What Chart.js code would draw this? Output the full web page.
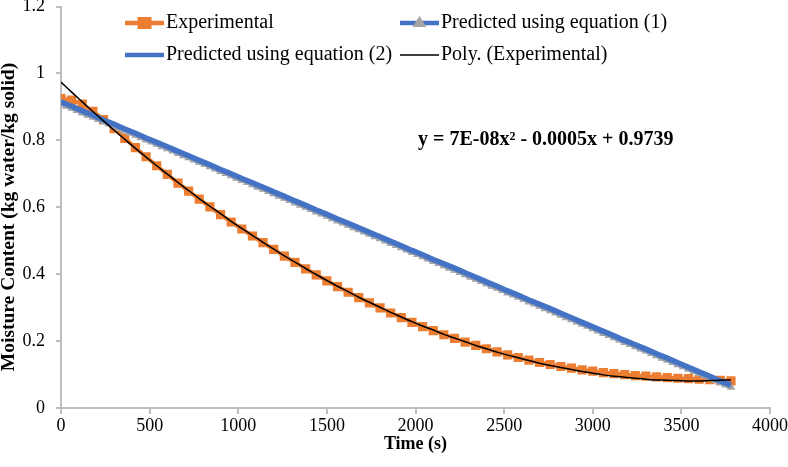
<!DOCTYPE html>
<html>
<head>
<meta charset="utf-8">
<script src="https://cdn.jsdelivr.net/npm/chart.js@4.4.1/dist/chart.umd.min.js"></script>
<style>
  html, body { margin: 0; padding: 0; background: #fff; }
  #wrap { width: 788px; height: 467px; }
</style>
</head>
<body>
<div id="wrap"><canvas id="chart" width="788" height="467"></canvas></div>
<script>
// 시간 (s) - 실험값 / 식(2) / 추세선
const expTime = [0,60,120,180,240,300,360,420,480,540,600,660,720,780,840,900,960,1020,1080,1140,1200,1260,1320,1380,1440,1500,1560,1620,1680,1740,1800,1860,1920,1980,2040,2100,2160,2220,2280,2340,2400,2460,2520,2580,2640,2700,2760,2820,2880,2940,3000,3060,3120,3180,3240,3300,3360,3420,3480,3540,3600,3660,3720,3780];

// 시간 (s) - 식(1) 예측값 (더 촘촘함)
const predTime = [0,30,60,90,120,150,180,210,240,270,300,330,360,390,420,450,480,510,540,570,600,630,660,690,720,750,780,810,840,870,900,930,960,990,1020,1050,1080,1110,1140,1170,1200,1230,1260,1290,1320,1350,1380,1410,1440,1470,1500,1530,1560,1590,1620,1650,1680,1710,1740,1770,1800,1830,1860,1890,1920,1950,1980,2010,2040,2070,2100,2130,2160,2190,2220,2250,2280,2310,2340,2370,2400,2430,2460,2490,2520,2550,2580,2610,2640,2670,2700,2730,2760,2790,2820,2850,2880,2910,2940,2970,3000,3030,3060,3090,3120,3150,3180,3210,3240,3270,3300,3330,3360,3390,3420,3450,3480,3510,3540,3570,3600,3630,3660,3690,3720,3750,3780];

const experimental = [0.925,0.920,0.908,0.887,0.862,0.835,0.806,0.778,0.751,0.724,0.698,0.672,0.648,0.624,0.601,0.578,0.556,0.535,0.514,0.494,0.474,0.454,0.435,0.416,0.398,0.380,0.363,0.346,0.330,0.314,0.299,0.284,0.270,0.256,0.243,0.231,0.219,0.208,0.197,0.187,0.177,0.168,0.159,0.151,0.143,0.136,0.130,0.124,0.119,0.114,0.110,0.106,0.103,0.100,0.097,0.095,0.093,0.091,0.089,0.088,0.086,0.085,0.083,0.081];

const predicted1 = [0.909,0.902,0.896,0.889,0.882,0.875,0.869,0.862,0.855,0.849,0.842,0.835,0.828,0.822,0.815,0.808,0.801,0.795,0.788,0.781,0.775,0.768,0.761,0.754,0.748,0.741,0.734,0.728,0.721,0.714,0.707,0.701,0.694,0.687,0.680,0.674,0.667,0.660,0.654,0.647,0.640,0.633,0.627,0.620,0.613,0.606,0.600,0.593,0.586,0.580,0.573,0.566,0.559,0.553,0.546,0.539,0.533,0.526,0.519,0.512,0.506,0.499,0.492,0.486,0.479,0.472,0.465,0.459,0.452,0.445,0.438,0.432,0.425,0.418,0.412,0.405,0.398,0.391,0.385,0.378,0.371,0.364,0.358,0.351,0.344,0.338,0.331,0.324,0.317,0.311,0.304,0.297,0.291,0.284,0.277,0.270,0.264,0.257,0.250,0.244,0.237,0.230,0.223,0.217,0.210,0.203,0.196,0.190,0.183,0.176,0.170,0.163,0.156,0.149,0.143,0.136,0.129,0.123,0.116,0.109,0.102,0.096,0.089,0.082,0.075,0.069,0.062];

const predicted2 = [0.915,0.902,0.888,0.875,0.861,0.848,0.834,0.821,0.807,0.794,0.781,0.767,0.754,0.740,0.727,0.713,0.700,0.686,0.673,0.660,0.646,0.633,0.619,0.606,0.592,0.579,0.565,0.552,0.539,0.525,0.512,0.498,0.485,0.471,0.458,0.444,0.431,0.418,0.404,0.391,0.377,0.364,0.350,0.337,0.323,0.310,0.297,0.283,0.270,0.256,0.243,0.229,0.216,0.202,0.189,0.176,0.162,0.149,0.135,0.122,0.108,0.095,0.081,0.068];

const polyTrend = [0.974,0.944,0.915,0.886,0.858,0.830,0.803,0.776,0.750,0.724,0.699,0.674,0.650,0.626,0.603,0.581,0.558,0.537,0.516,0.495,0.475,0.455,0.436,0.417,0.399,0.381,0.364,0.348,0.331,0.316,0.301,0.286,0.272,0.258,0.245,0.233,0.220,0.209,0.198,0.187,0.177,0.167,0.158,0.150,0.142,0.134,0.127,0.121,0.115,0.109,0.104,0.099,0.095,0.092,0.089,0.086,0.084,0.083,0.082,0.081,0.081,0.082,0.083,0.084];

const xTicks = [0, 500, 1000, 1500, 2000, 2500, 3000, 3500, 4000];
const yTicks = [0, 0.2, 0.4, 0.6, 0.8, 1, 1.2];

const equationText = 'y = 7E-08x² - 0.0005x + 0.9739';
const yTitle = 'Moisture Content (kg water/kg solid)';

const SERIF = '"Liberation Serif", "Times New Roman", serif';
const ORANGE = '#ED7D31';
const BLUE = '#4472C4';
const GRAY = '#A5A5A5';

function toPoints(xs, ys) {
    return xs.map((x, i) => ({ x: x, y: ys[i] }));
}

// 범례, y축 제목, 추세선 식을 그리는 플러그인
const legendPlugin = {
    id: 'customLegend',
    afterDraw(chart) {
        const ctx = chart.ctx;
        ctx.save();
        ctx.font = '20px ' + SERIF;
        ctx.fillStyle = '#000';
        ctx.textBaseline = 'middle';
        ctx.textAlign = 'left';

        const items = [
            { ds: 0, x: 125, y: 23, text: 'Experimental' },
            { ds: 1, x: 400, y: 23, text: 'Predicted using equation (1)' },
            { ds: 2, x: 125, y: 55, text: 'Predicted using equation (2)' },
            { ds: 3, x: 400, y: 55, text: 'Poly. (Experimental)' }
        ];
        items.forEach(it => {
            const d = chart.data.datasets[it.ds];
            const len = 39;
            ctx.strokeStyle = d.borderColor;
            ctx.lineWidth = it.ds === 3 ? 1.5 : 4.5;
            ctx.beginPath();
            ctx.moveTo(it.x, it.y);
            ctx.lineTo(it.x + len, it.y);
            ctx.stroke();
            const cx = it.x + len / 2;
            if (d.pointStyle === 'rect' && d.pointRadius > 0) {
                ctx.fillStyle = d.pointBackgroundColor;
                ctx.fillRect(cx - 7, it.y - 6, 14, 12);
            } else if (d.pointStyle === 'triangle' && d.pointRadius > 0) {
                ctx.fillStyle = d.pointBackgroundColor;
                ctx.beginPath();
                ctx.moveTo(cx, it.y - 7);
                ctx.lineTo(cx + 7, it.y + 4);
                ctx.lineTo(cx - 7, it.y + 4);
                ctx.closePath();
                ctx.fill();
            }
            ctx.fillStyle = '#000';
            ctx.fillText(it.text, it.x + len + 2, it.y);
        });

        ctx.font = 'bold 20px ' + SERIF;
        ctx.fillText(equationText, 418, 140);

        // y축 제목
        ctx.translate(9, 217);
        ctx.rotate(-Math.PI / 2);
        ctx.textAlign = 'center';
        ctx.font = 'bold 19.5px ' + SERIF;
        ctx.fillText(yTitle, 0, 0);
        ctx.restore();
    }
};

const canvas = document.getElementById('chart');
new Chart(canvas.getContext('2d'), {
    type: 'scatter',
    data: {
        datasets: [{
            label: 'Experimental',
            data: toPoints(expTime, experimental),
            showLine: true,
            borderColor: ORANGE,
            borderWidth: 4,
            pointStyle: 'rect',
            pointRadius: 6.5,
            pointBackgroundColor: ORANGE,
            pointBorderColor: ORANGE,
            pointBorderWidth: 0,
            order: 4
        }, {
            label: 'Predicted using equation (1)',
            data: toPoints(predTime, predicted1),
            showLine: true,
            borderColor: BLUE,
            borderWidth: 4,
            pointStyle: 'triangle',
            pointRadius: 5,
            pointBackgroundColor: GRAY,
            pointBorderColor: GRAY,
            pointBorderWidth: 0,
            order: 3
        }, {
            label: 'Predicted using equation (2)',
            data: toPoints(expTime, predicted2),
            showLine: true,
            borderColor: BLUE,
            borderWidth: 5.5,
            pointRadius: 0,
            order: 2
        }, {
            label: 'Poly. (Experimental)',
            data: toPoints(expTime, polyTrend),
            showLine: true,
            borderColor: '#000',
            borderWidth: 1.5,
            pointRadius: 0,
            tension: 0.4,
            order: 1
        }]
    },
    options: {
        responsive: false,
        animation: false,
        devicePixelRatio: 1,
        layout: { padding: { top: 6, right: 18, left: 0, bottom: 0 } },
        plugins: {
            legend: { display: false },
            tooltip: { enabled: false }
        },
        scales: {
            x: {
                type: 'linear',
                min: 0,
                max: 4000,
                afterBuildTicks: s => { s.ticks = xTicks.map(v => ({ value: v })); },
                afterFit: s => { s.height = 59; s.paddingLeft = 0; s.paddingRight = 0; },
                ticks: {
                    color: '#000',
                    font: { family: SERIF, size: 18 },
                    padding: 1,
                    maxRotation: 0,
                    callback: v => String(v)
                },
                grid: { drawOnChartArea: false, tickLength: 6, color: '#BFBFBF', lineWidth: 2 },
                border: { color: '#BFBFBF', width: 2 },
                title: {
                    display: true,
                    text: 'Time (s)',
                    color: '#000',
                    font: { family: SERIF, size: 18, weight: 'bold' },
                    padding: { top: 0, bottom: 12 }
                }
            },
            y: {
                min: 0,
                max: 1.2,
                afterBuildTicks: s => { s.ticks = yTicks.map(v => ({ value: v })); },
                afterFit: s => { s.width = 61; s.paddingTop = 0; s.paddingBottom = 0; },
                ticks: {
                    color: '#000',
                    font: { family: SERIF, size: 18 },
                    padding: 11,
                    callback: v => String(Math.round(v * 10) / 10)
                },
                grid: { drawOnChartArea: false, tickLength: 5, color: '#BFBFBF', lineWidth: 2 },
                border: { color: '#BFBFBF', width: 2 }
            }
        }
    },
    plugins: [legendPlugin]
});
</script>
</body>
</html>
